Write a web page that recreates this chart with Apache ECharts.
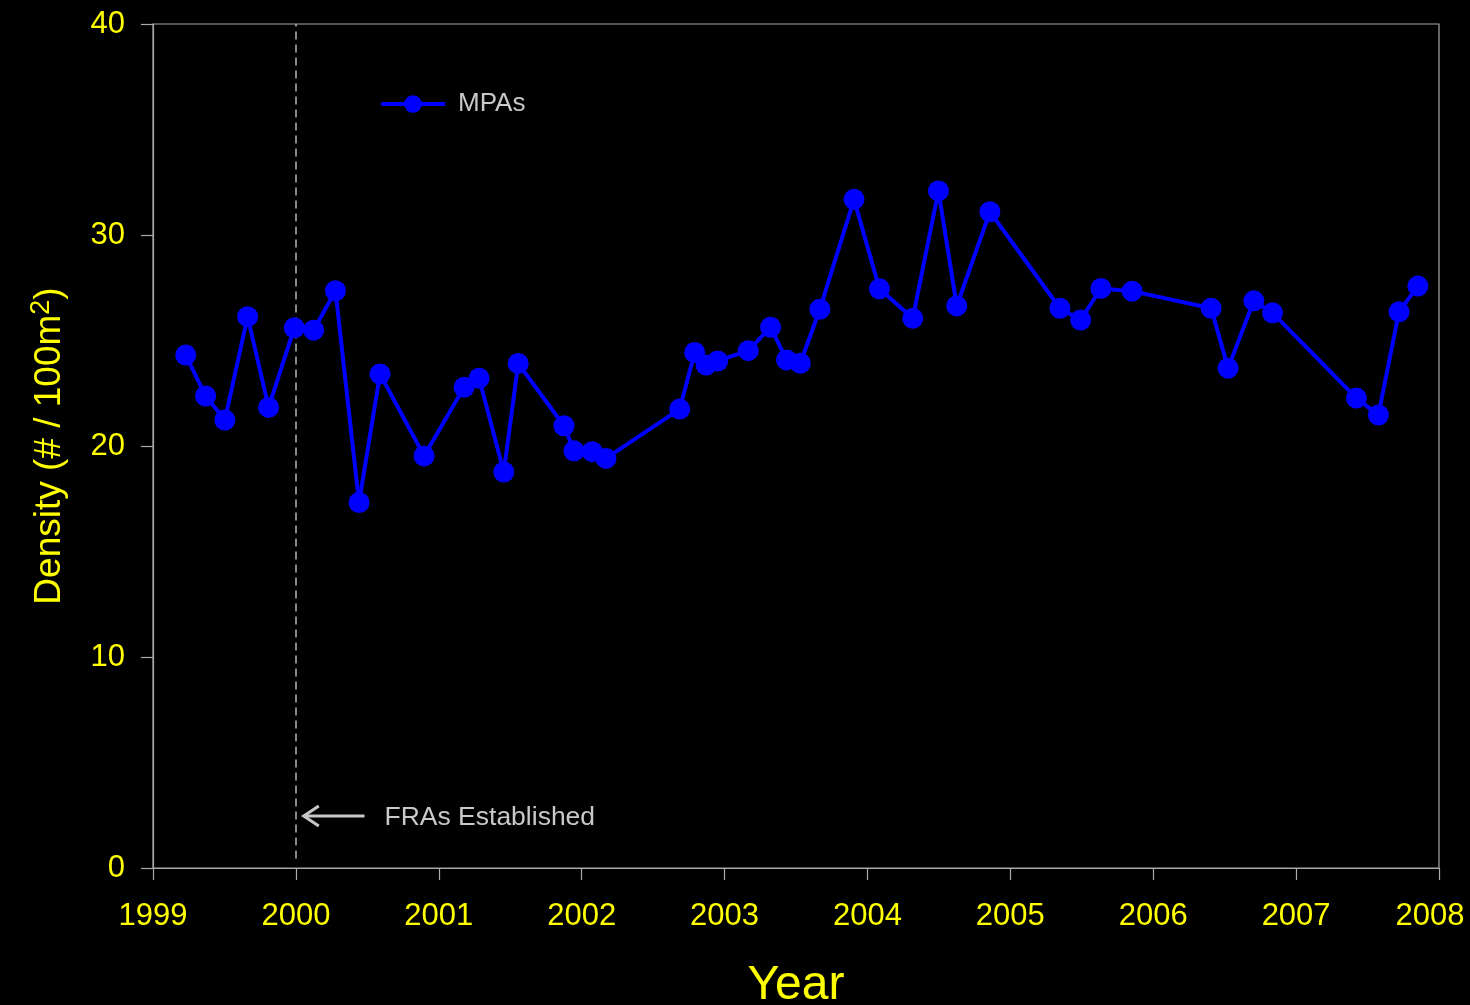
<!DOCTYPE html>
<html>
<head>
<meta charset="utf-8">
<script src="https://cdn.jsdelivr.net/npm/echarts@6/dist/echarts.min.js"></script>
<style>
html,body{margin:0;padding:0;background:#000;overflow:hidden;}
#main{width:1470px;height:1005px;}
</style>
</head>
<body>
<div id="main"></div>
<script>
// ---- Data ----
const years = [
  1999.229, 1999.368, 1999.503, 1999.662, 1999.809, 1999.989, 2000.124, 2000.277,
  2000.442, 2000.589, 2000.897, 2001.177, 2001.282, 2001.455, 2001.556, 2001.876,
  2001.946, 2002.074, 2002.170, 2002.686, 2002.791, 2002.871, 2002.952, 2003.166,
  2003.322, 2003.434, 2003.530, 2003.667, 2003.906, 2004.084, 2004.317, 2004.497,
  2004.625, 2004.857, 2005.347, 2005.492, 2005.634, 2005.852, 2006.405, 2006.524,
  2006.704, 2006.835, 2007.422, 2007.576, 2007.720, 2007.852
];
const density = [
  24.31, 22.37, 21.23, 26.13, 21.83, 25.60, 25.49, 27.36,
  17.32, 23.41, 19.53, 22.78, 23.21, 18.77, 23.91, 20.96,
  19.77, 19.73, 19.41, 21.75, 24.43, 23.84, 24.03, 24.52,
  25.63, 24.08, 23.92, 26.48, 31.69, 27.45, 26.05, 32.09,
  26.64, 31.10, 26.53, 25.97, 27.47, 27.34, 26.53, 23.69,
  26.88, 26.31, 22.27, 21.47, 26.36, 27.58
];
const seriesName = 'MPAs';
const xTicks = [1999, 2008, 1];   // min, max, interval
const yTicks = [0, 40, 10];       // min, max, interval
const frasYear = [2000];          // vertical dashed line
const dashRange = [0.45, 40];     // y extent of the dashed line
const arrowFrom = [2000.48, 2.46];
const arrowTo = [2000.055, 2.46];
const annoText = 'FRAs Established';
const annoPos = [2000.62, 2.46];

const yellow = '#ffff00';
const grey = '#a9a9a9';
const font = '"Liberation Sans", Arial, sans-serif';

const chart = echarts.init(document.getElementById('main'));
const option = {
  backgroundColor: '#000',
  animation: false,
  grid: {left: 153, top: 24, right: 31, bottom: 137, show: true, borderColor: grey, borderWidth: 1.2,
         containLabel: false, outerBoundsMode: 'none'},
  legend: {
    data: [seriesName], left: 374, top: 86, itemWidth: 64, itemHeight: 22,
    lineStyle: {width: 4},
    textStyle: {color: '#c8c8c8', fontSize: 26, fontFamily: font, padding: [0,0,0,8]}
  },
  xAxis: {
    type: 'value', min: xTicks[0], max: xTicks[1], interval: xTicks[2],
    axisLine: {show: true, lineStyle: {color: grey, width: 1.2}},
    axisTick: {show: true, length: 12, lineStyle: {color: grey, width: 1.2}},
    axisLabel: {
      color: yellow, fontSize: 31, fontFamily: font, margin: 33,
      formatter: v => v === xTicks[1] ? '{r|' + v + '}' : String(v),
      rich: {r: {color: yellow, fontSize: 31, fontFamily: font, padding: [0, 18, 0, 0]}}
    },
    splitLine: {show: false},
    name: 'Year', nameLocation: 'middle', nameGap: 94,
    nameTextStyle: {color: yellow, fontSize: 48, fontFamily: font}
  },
  yAxis: {
    type: 'value', min: yTicks[0], max: yTicks[1], interval: yTicks[2],
    axisLine: {show: true, lineStyle: {color: grey, width: 1.2}},
    axisTick: {show: true, length: 12, lineStyle: {color: grey, width: 1.2}},
    axisLabel: {color: yellow, fontSize: 31, fontFamily: font, margin: 28},
    splitLine: {show: false},
    name: '{a|Density (# / 100m}{b|2}{a|)}', nameLocation: 'middle', nameGap: 81, nameRotate: 90,
    nameTextStyle: {
      color: yellow, fontFamily: font,
      rich: {
        a: {color: yellow, fontSize: 37, fontFamily: font, lineHeight: 44},
        b: {color: yellow, fontSize: 27, fontFamily: font, verticalAlign: 'top', lineHeight: 44, padding: [0,0,14,0]}
      }
    }
  },
  series: [{
    name: seriesName, type: 'line',
    data: years.map((x, i) => [x, density[i]]),
    symbol: 'circle', symbolSize: 21,
    lineStyle: {color: '#0000ff', width: 4},
    itemStyle: {color: '#0000ff'},
    z: 5,
    markLine: {
      silent: true, symbol: 'none', label: {show: false},
      lineStyle: {color: '#b5b5b5', type: [8, 5], width: 1.5},
      data: frasYear.map(v => [{coord: [v, dashRange[0]]}, {coord: [v, dashRange[1]]}])
    }
  }]
};
chart.setOption(option);

const p1 = chart.convertToPixel({gridIndex: 0}, arrowFrom);
const p2 = chart.convertToPixel({gridIndex: 0}, arrowTo);
const pt = chart.convertToPixel({gridIndex: 0}, annoPos);
chart.setOption({
  graphic: [
    {type: 'line', shape: {x1: p1[0], y1: p1[1], x2: p2[0], y2: p2[1]}, style: {stroke: '#c8c8c8', lineWidth: 3}},
    {type: 'polyline', shape: {points: [[p2[0] + 15, p2[1] - 10], [p2[0], p2[1]], [p2[0] + 15, p2[1] + 10]]}, style: {stroke: '#c8c8c8', lineWidth: 3, fill: null}},
    {type: 'text', x: pt[0], y: pt[1] + 2, style: {text: annoText, fill: '#c8c8c8', font: '26.5px ' + font, textVerticalAlign: 'middle', verticalAlign: 'middle'}}
  ]
});
</script>
</body>
</html>
